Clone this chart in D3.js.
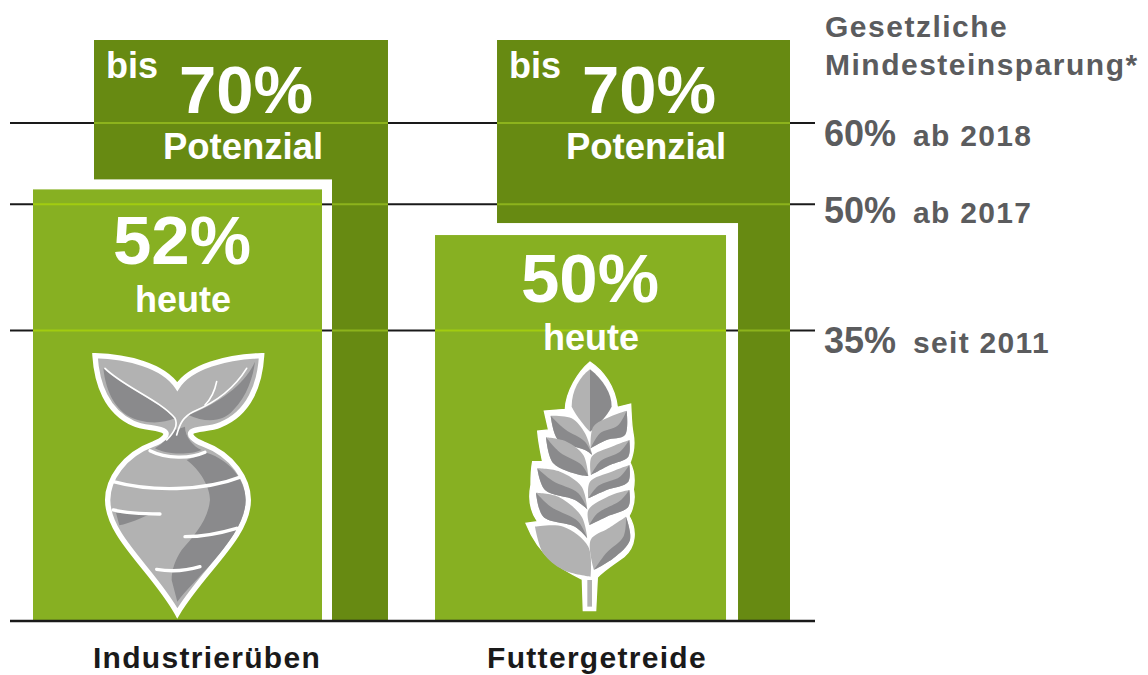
<!DOCTYPE html>
<html>
<head>
<meta charset="utf-8">
<script src="https://cdn.jsdelivr.net/npm/d3@7"></script>
<style>
body { margin: 0; background: #fff; }
text { font-family: "Liberation Sans", Arial, sans-serif; font-weight: bold; }
</style>
</head>
<body>
<script>
var w = 1148;
var h = 675;

// values
var categories = ["Industrierüben", "Futtergetreide"];
var potentialValues = [70, 70];
var todayValues = [52, 46.5];         // height as drawn, the second bar is lower than its label
var todayLabels = ["52%", "50%"];
var thresholdValues = [60, 50.2, 35];
var thresholdLabels = ["60%", "50%", "35%"];
var thresholdNotes = ["ab 2018", "ab 2017", "seit 2011"];
var titleLines = ["Gesetzliche", "Mindesteinsparung*"];

var DARK = "#678a12";
var LIGHT = "#87b022";
var GREY = "#5b5c5e";
var BLACK = "#1a1a1a";

var svg = d3.select("body").append("svg")
  .attr("width", w)
  .attr("height", h);

var x = d3.scaleBand()
  .domain(categories)
  .range([33, 790])
  .paddingInner(0.117);

var y = d3.scaleLinear()
  .domain([0, 70])
  .range([621, 40]);

// layout per group, the two groups are not quite alike in the original
var lightWidth = [289, 291];
var darkOffset = [61, 62];
var gap = [10, 12];
var labelCentre = [149, 155];
var labelDrop = [75, 67];
var catCentre = [174, 162];
var noteDrop = [23, 19, 22];

// black lines behind everything
svg.selectAll("line.threshold")
  .data(thresholdValues)
  .enter().append("line")
  .attr("class", "threshold")
  .attr("x1", 10).attr("x2", 815)
  .attr("y1", y).attr("y2", y)
  .attr("stroke", BLACK).attr("stroke-width", 2);

function hline(g, x1, x2, yy, col) {
  return g.append("line")
    .attr("x1", x1).attr("x2", x2)
    .attr("y1", yy).attr("y2", yy)
    .attr("stroke", col).attr("stroke-width", 2);
}

categories.forEach(function(cat, i) {
  var g = svg.append("g");
  var x0 = x(cat);
  var xRight = x0 + x.bandwidth();
  var xDark = x0 + darkOffset[i];
  var topDark = y(potentialValues[i]);
  var topLight = y(todayValues[i]);

  // dark bar
  g.append("rect")
    .attr("x", xDark).attr("y", topDark)
    .attr("width", xRight - xDark)
    .attr("height", y(0) - topDark)
    .attr("fill", DARK);
  thresholdValues.forEach(function(t) {
    hline(g, xDark, xRight, y(t), "#8db31c");
  });

  // white frame round the light bar
  g.append("rect")
    .attr("x", x0).attr("y", topLight - gap[i])
    .attr("width", lightWidth[i] + gap[i])
    .attr("height", y(0) - topLight + gap[i])
    .attr("fill", "#fff");
  thresholdValues.forEach(function(t) {
    if (y(t) > topLight - gap[i]) hline(g, x0 + lightWidth[i], x0 + lightWidth[i] + gap[i], y(t), BLACK);
  });

  // light bar
  g.append("rect")
    .attr("x", x0).attr("y", topLight)
    .attr("width", lightWidth[i])
    .attr("height", y(0) - topLight)
    .attr("fill", LIGHT);
  thresholdValues.forEach(function(t) {
    if (y(t) > topLight) hline(g, x0, x0 + lightWidth[i], y(t), "#a2cc10");
  });

  // texts on the bars
  g.append("text").attr("x", xDark + 12).attr("y", 78)
    .attr("fill", "#fff").attr("font-size", 36).text("bis");
  g.append("text").attr("x", xDark + 152).attr("y", 113)
    .attr("fill", "#fff").attr("font-size", 67).attr("text-anchor", "middle").text(potentialValues[i] + "%");
  g.append("text").attr("x", xDark + 149).attr("y", 159)
    .attr("fill", "#fff").attr("font-size", 36.5).attr("text-anchor", "middle").text("Potenzial");

  g.append("text").attr("x", x0 + labelCentre[i]).attr("y", topLight + labelDrop[i])
    .attr("fill", "#fff").attr("font-size", 69).attr("text-anchor", "middle").text(todayLabels[i]);
  g.append("text").attr("x", x0 + labelCentre[i] + 1).attr("y", topLight + labelDrop[i] + 48)
    .attr("fill", "#fff").attr("font-size", 36).attr("text-anchor", "middle").text("heute");

  // category label
  svg.append("text").attr("x", x0 + catCentre[i]).attr("y", 668)
    .attr("fill", BLACK).attr("font-size", 30).attr("letter-spacing", 1.3)
    .attr("text-anchor", "middle").text(cat);
});

// baseline goes over the bars
hline(svg, 10, 815, y(0), BLACK).attr("stroke-width", 2.5);

// right side labels
svg.selectAll("text.title")
  .data(titleLines)
  .enter().append("text")
  .attr("class", "title")
  .attr("x", 825)
  .attr("y", function(d, i) { return 37 + i * 38; })
  .attr("fill", GREY).attr("font-size", 30).attr("letter-spacing", 1.5)
  .text(function(d) { return d; });

thresholdValues.forEach(function(t, i) {
  var txt = svg.append("text").attr("x", 824).attr("y", y(t) + noteDrop[i]).attr("fill", GREY);
  txt.append("tspan").attr("font-size", 36).text(thresholdLabels[i]);
  txt.append("tspan").attr("font-size", 30).attr("letter-spacing", 1.3).attr("dx", 17).text(thresholdNotes[i]);
});

// beet icon, traced in zoom coordinates
var lightGrey = "#b2b2b2", darkGrey = "#8a8a8c";
var beet = svg.append("g").attr("transform", "translate(60,340) scale(0.3333)");
beet.append("path")
  .attr("d", "M105,47 C200,50 310,75 352,140 C390,80 500,50 605,47 C600,130 570,220 480,255 C450,268 410,265 395,275 C385,285 400,300 430,312 C520,345 565,420 565,480 C565,590 430,690 352,820 C280,690 143,590 143,480 C143,420 190,345 280,312 C310,300 325,285 315,275 C300,262 250,265 220,250 C140,215 110,130 105,47 Z")
  .attr("fill", lightGrey).attr("stroke", "#fff").attr("stroke-width", 16).attr("stroke-linejoin", "miter");
[
  "M130,85 C190,140 290,180 345,235 C300,255 240,250 200,225 C150,190 135,130 130,85 Z",
  "M585,65 C560,120 500,180 385,225 C440,250 490,245 520,210 C560,170 580,110 585,65 Z",
  "M345,270 C330,290 310,310 285,325 C320,345 390,345 425,330 C400,320 375,290 375,260 Z",
  "M380,360 C420,390 450,440 450,480 C445,540 400,590 365,630 C345,660 335,690 335,720 L352,785 C400,720 557,590 557,480 C557,420 510,360 440,338 Z",
  "M168,518 L178,556 C210,550 240,535 265,525 Z"
].forEach(function(d) {
  beet.append("path").attr("d", d).attr("fill", darkGrey);
});
[
  "M160,425 C270,455 430,455 545,410",
  "M160,510 C200,520 260,522 300,522",
  "M375,590 C430,590 480,580 530,565",
  "M290,688 C330,695 380,692 420,680",
  "M270,332 C320,357 390,357 435,337",
  "M135,85 C190,140 300,180 345,235 C355,255 345,275 320,300",
  "M560,85 C520,150 460,190 400,215 C370,230 360,250 350,285",
  "M470,125 C465,150 455,175 435,195"
].forEach(function(d, i) {
  beet.append("path").attr("d", d).attr("fill", "none").attr("stroke", "#fff")
    .attr("stroke-linecap", "round").attr("stroke-width", i < 5 ? 10 : 5);
});

// wheat icon, traced in zoom coordinates, white body with grey grains on it
var wheat = svg.append("g").attr("transform", "translate(500,350) scale(0.3333)");
wheat.append("path")
  .attr("d", "M270,36 C310,62 345,110 352,172 L392,162 C394,200 394,225 399,250 C407,290 397,320 390,338 C404,365 404,395 400,418 C407,450 397,480 387,498 C412,540 407,590 372,620 C345,640 312,660 292,682 L287,782 L250,782 L247,688 C190,660 120,625 78,520 L113,515 C88,480 86,440 93,405 C93,385 93,360 98,335 L128,335 C123,310 116,280 113,243 L146,240 L133,183 L196,178 C198,125 235,65 270,36 Z")
  .attr("fill", "#fff").attr("stroke", "#fff").attr("stroke-width", 4).attr("stroke-linejoin", "miter");

// tip, two points on the upper edge, base, two points on the lower edge
var grains = [
  [[152, 197], [215, 205], [255, 250], [277, 315], [255, 300], [175, 270]],
  [[138, 262], [200, 275], [250, 315], [265, 378], [240, 375], [160, 340]],
  [[112, 355], [180, 365], [245, 410], [262, 478], [225, 450], [135, 420]],
  [[108, 428], [175, 440], [245, 500], [262, 565], [225, 530], [130, 500]],
  [[105, 530], [190, 530], [265, 590], [272, 680], [190, 660], [130, 610]],
  [[380, 182], [330, 200], [280, 230], [272, 295], [320, 270], [375, 255]],
  [[388, 270], [335, 290], [275, 320], [273, 375], [330, 345], [385, 320]],
  [[388, 345], [335, 365], [270, 395], [265, 445], [320, 420], [385, 395]],
  [[388, 420], [335, 435], [265, 480], [268, 525], [320, 500], [385, 470]],
  [[378, 500], [325, 535], [272, 570], [282, 660], [340, 625], [390, 570]]
];

var edge = d3.line().curve(d3.curveCatmullRom);

function join(a, b) {
  return edge(a) + edge(b).replace(/^M/, "L") + "Z";
}

function mid(a, b, k) {
  return [a[0] + (b[0] - a[0]) * k, a[1] + (b[1] - a[1]) * k];
}

wheat.append("path").attr("d", "M270,58 C240,80 215,120 215,170 C230,200 255,230 270,245 Z").attr("fill", lightGrey);
wheat.append("path").attr("d", "M270,58 C310,90 335,130 335,170 C320,200 290,230 270,245 Z").attr("fill", darkGrey);

grains.forEach(function(p, i) {
  var upper = [p[0], p[1], p[2], p[3]];
  var lower = [p[3], p[4], p[5], p[0]];
  wheat.append("path").attr("d", join(upper, lower)).attr("fill", lightGrey);
  if (i == 4) return;                 // big left grain has no dark part
  var k = i == 9 ? 0.7 : 0.5;
  var middle = [p[0], mid(p[1], p[5], k), mid(p[2], p[4], k), p[3]];
  wheat.append("path").attr("d", join(middle, lower)).attr("fill", darkGrey);
});
wheat.append("path").attr("d", "M269,690 L269,770").attr("stroke", lightGrey).attr("stroke-width", 14);
</script>
</body>
</html>
